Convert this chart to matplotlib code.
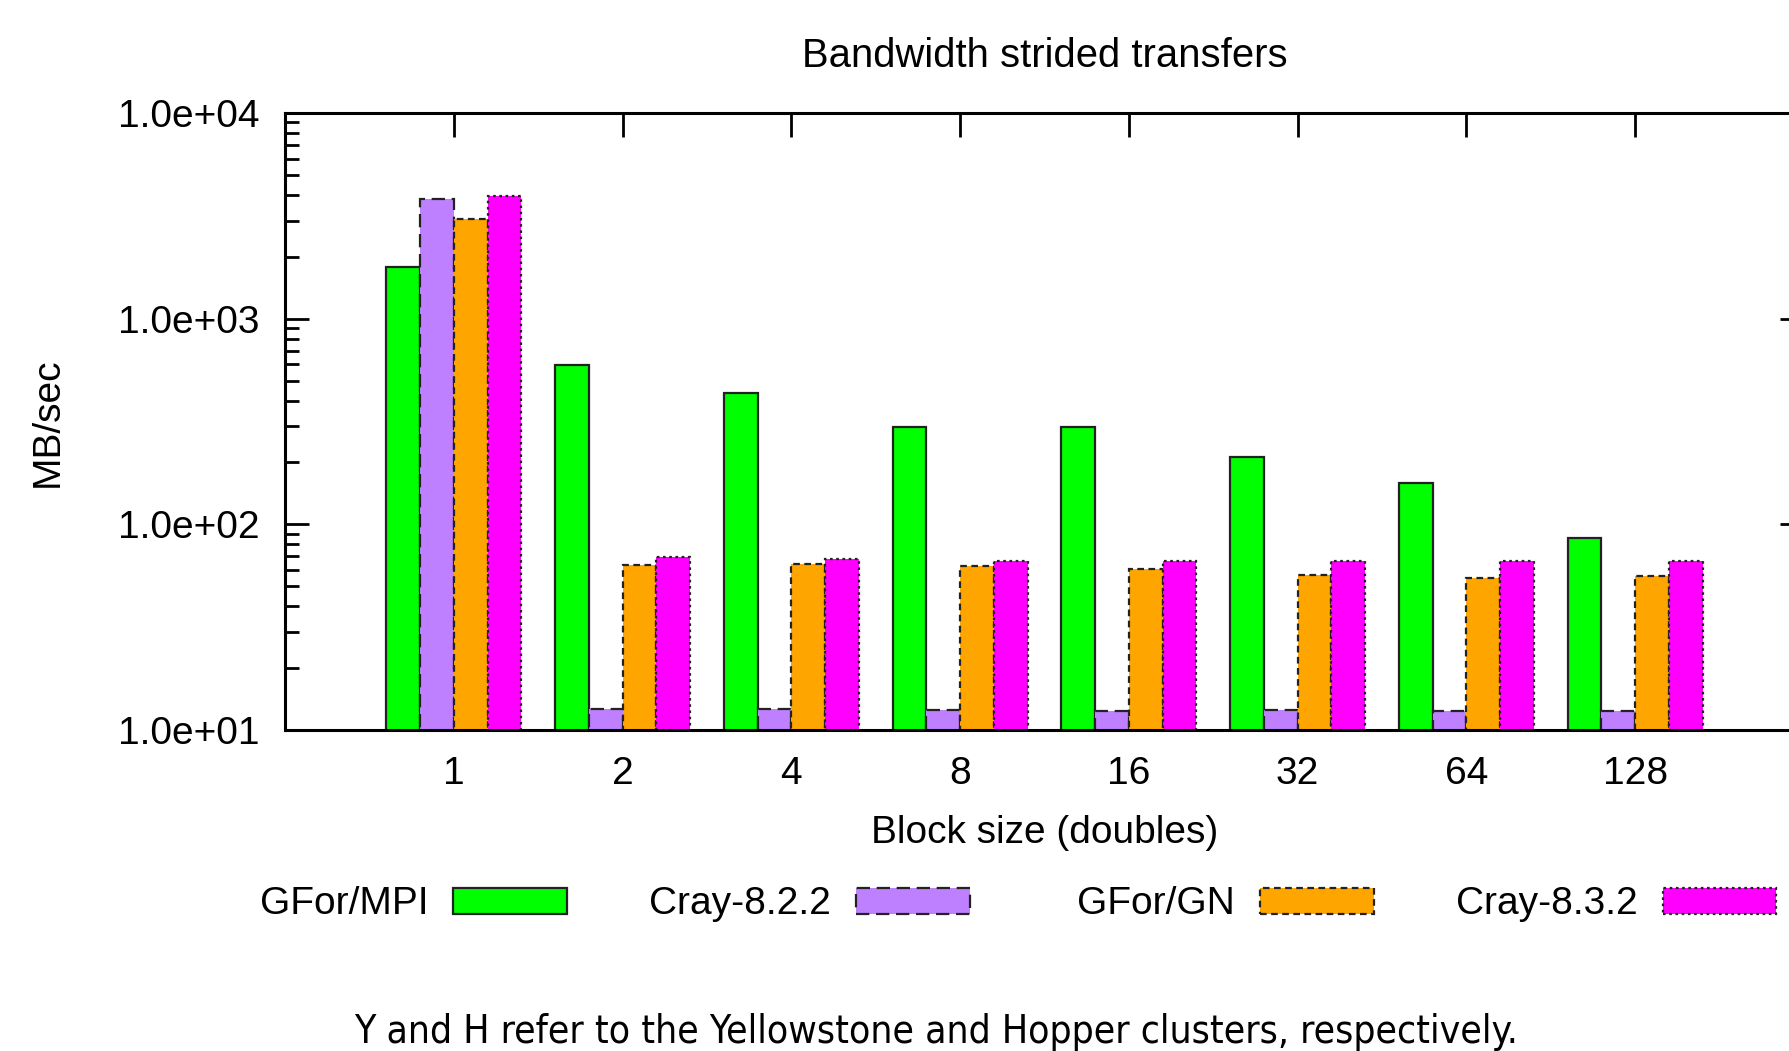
import matplotlib
matplotlib.use("Agg")
import matplotlib.pyplot as plt
import numpy as np
from matplotlib.patches import Patch

# Bandwidth (MB/sec) per block size, one array per compiler/runtime
block_sizes = ["1", "2", "4", "8", "16", "32", "64", "128"]
gfor_mpi = [1790, 595, 435, 296, 297, 212, 158, 86]
cray_822 = [3800, 12.6, 12.6, 12.5, 12.4, 12.5, 12.4, 12.4]
gfor_gn = [3050, 63.5, 64, 63, 60.5, 57, 55, 56]
cray_832 = [3950, 69.5, 68, 66.5, 66.5, 66.5, 66.5, 66.5]

series_labels = ["GFor/MPI", "Cray-8.2.2", "GFor/GN", "Cray-8.3.2"]
series_values = [gfor_mpi, cray_822, gfor_gn, cray_832]
series_colors = ["#00ff00", "#bf80ff", "#ffa500", "#ff00ff"]
series_dashes = ["-", (0, (6, 3)), (0, (3, 2)), (0, (1.2, 1.6))]

title_text = "Bandwidth strided transfers"
x_label = "Block size (doubles)"
y_label = "MB/sec"
caption = "Y and H refer to the Yellowstone and Hopper clusters, respectively."

plt.rcParams["font.family"] = ["Liberation Sans", "DejaVu Sans"]

W, H = 1789, 1051
fig = plt.figure(figsize=(W / 100, H / 100), dpi=100)
ax = fig.add_axes([0.1593, 0.3054, 1.0084 - 0.1593, 0.8925 - 0.3054])

fs = 28
bar_w = 0.2
pos = np.arange(1, len(block_sizes) + 1)
handles = []
for i, (lab, vals, col, ls) in enumerate(zip(series_labels, series_values,
                                             series_colors, series_dashes)):
    offs = (i - 1.5) * bar_w
    ax.bar(pos + offs, vals, width=bar_w, bottom=0, color=col,
           edgecolor="#222222", linewidth=1.6, linestyle=ls, zorder=3)
    handles.append(Patch(facecolor=col, edgecolor="#222222", linewidth=1.6,
                         linestyle=ls, label=lab))

ax.set_yscale("log")
ax.set_ylim(10, 10000)
ax.set_xlim(0, 9)
ax.set_xticks(pos)
ax.set_xticklabels(block_sizes, fontsize=fs)
ax.set_yticks([10, 100, 1000, 10000])
ax.set_yticklabels(["1.0e+01", "1.0e+02", "1.0e+03", "1.0e+04"], fontsize=fs)

ax.tick_params(axis="x", which="both", direction="in", bottom=False, top=True,
               length=17, width=2, pad=19)
ax.tick_params(axis="y", which="major", direction="in", left=True, right=True,
               length=17, width=2, pad=18)
ax.tick_params(axis="y", which="minor", direction="in", left=True, right=True,
               length=10, width=2)
for sp in ax.spines.values():
    sp.set_linewidth(2.2)
    sp.set_zorder(5)

ax.set_title(title_text, fontsize=28.8, pad=33, x=0.5)
ax.set_xlabel(x_label, fontsize=fs, labelpad=16.5)
fig.text(48 / W, 1 - 422 / H, y_label, rotation=90,
         fontsize=fs, ha="center", va="center")

# one legend entry per series, text placed left of the sample box
handle_right = [497, 850, 1204, 1557]
for h, xr in zip(handles, handle_right):
    fig.legend(handles=[h], loc="center right",
               bbox_to_anchor=(xr / 1568, 0.1395),
               frameon=False, fontsize=fs, markerfirst=False,
               handlelength=2.93, handleheight=0.67, handletextpad=0.64,
               borderpad=0, borderaxespad=0)

fig.text(0.523, 0.018, caption, ha="center", va="center", fontsize=28,
         family=["Liberation Sans Narrow", "DejaVu Sans"], stretch="condensed")

fig.savefig("out.png", dpi=100)
